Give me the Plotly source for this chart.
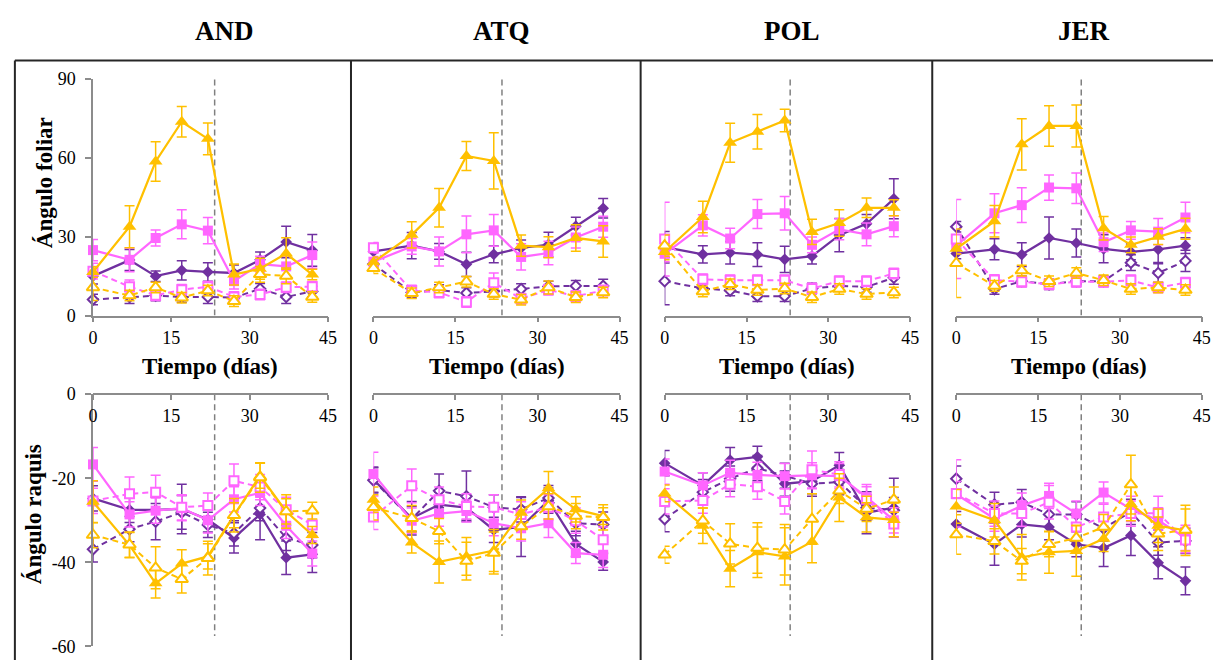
import plotly.graph_objects as go

# ---------------- data ----------------
days = [0, 7, 12, 17, 22, 27, 32, 37, 42]
sites = ["AND", "ATQ", "POL", "JER"]
x_ticks = [0, 15, 30, 45]
fol_ticks = [0, 30, 60, 90]
raq_ticks = [0, -20, -40, -60]
raq_ticktext = ["0", "-20", "-40", "-60"]
treat_day = [23.3, 23.5, 23.0, 22.9]

# Ángulo foliar (top row)
fol_AND_pur_s = [15.0, 21.1, 15.0, 17.2, 16.6, 16.2, 21.2, 28.0, 24.8]
fol_AND_pur_s_err = [3, 4, 2, 3.7, 3.5, 3, 3, 6, 6]
fol_AND_pur_d = [6.1, 7.1, 7.6, 7.1, 7.1, 6.8, 10.2, 7.1, 9.2]
fol_AND_pur_d_err = [2, 2.5, 2, 2, 2.5, 2, 2, 2.5, 2]
fol_AND_pnk_s = [24.9, 21.2, 29.5, 34.7, 32.3, 13.1, 19.6, 18.7, 23.0]
fol_AND_pnk_s_err = [4, 4.5, 3, 5.5, 5, 3, 3, 4, 5]
fol_AND_pnk_d = [16.9, 11.0, 7.7, 9.8, 11.0, 7.1, 8.0, 10.8, 11.0]
fol_AND_pnk_d_err = [3, 2.5, 2, 2, 2, 2, 2, 2, 2]
fol_AND_gld_s = [16.6, 33.8, 58.6, 73.7, 67.2, 15.6, 17.8, 23.6, 15.6]
fol_AND_gld_s_err = [2, 8, 7.5, 5.8, 6, 4, 4, 6, 2]
fol_AND_gld_d = [10.7, 7.6, 10.7, 6.8, 9.5, 5.5, 15.7, 15.1, 7.1]
fol_AND_gld_d_err = [5, 2, 2, 2, 2, 2, 3, 3, 2]

fol_ATQ_pur_s = [24.4, 26.6, 24.4, 19.5, 23.3, 25.7, 27.0, 34.0, 40.8]
fol_ATQ_pur_s_err = [3, 5, 3, 4.6, 3.2, 3, 4.7, 3.4, 3.7]
fol_ATQ_pur_d = [19.6, 8.8, 9.7, 8.6, 9.2, 10.1, 11.1, 11.3, 11.3]
fol_ATQ_pur_d_err = [2, 2, 2, 2, 2, 2, 2, 2, 2.5]
fol_ATQ_pnk_s = [20.5, 26.3, 24.4, 30.9, 32.4, 22.3, 23.8, 29.7, 33.8]
fol_ATQ_pnk_s_err = [2, 3, 5.5, 7, 6, 5, 4.5, 4, 4]
fol_ATQ_pnk_d = [25.8, 9.5, 8.8, 5.2, 12.5, 6.4, 9.8, 7.4, 9.5]
fol_ATQ_pnk_d_err = [2, 2, 2, 2, 3.7, 2, 2, 2, 2]
fol_ATQ_gld_s = [20.3, 30.7, 41.0, 60.7, 58.8, 26.6, 26.0, 29.5, 28.2]
fol_ATQ_gld_s_err = [2, 5, 7.3, 5.5, 10.7, 4, 4, 5, 6]
fol_ATQ_gld_d = [18.0, 8.5, 10.7, 12.9, 8.2, 6.0, 10.7, 7.0, 8.8]
fol_ATQ_gld_d_err = [2, 2, 2, 2, 2, 2, 2.5, 2, 2]

fol_POL_pur_s = [26.0, 23.3, 23.9, 23.2, 21.4, 22.6, 30.6, 34.9, 44.4]
fol_POL_pur_s_err = [6, 3.3, 4.3, 4.5, 5, 3, 6.3, 3.5, 7.6]
fol_POL_pur_d = [13.1, 10.3, 9.5, 7.4, 7.4, 10.3, 11.3, 10.9, 14.4]
fol_POL_pur_d_err = [9, 2, 2, 2, 2, 2, 2, 2, 2.5]
fol_POL_pnk_s = [23.5, 34.3, 29.3, 38.6, 38.9, 26.9, 32.8, 30.9, 34.0]
fol_POL_pnk_s_err = [3, 4, 3.9, 5.5, 6.4, 3, 4, 4.3, 4]
fol_POL_pnk_d = [29.1, 13.8, 13.4, 13.4, 13.4, 10.3, 13.1, 13.1, 16.0]
fol_POL_pnk_d_err = [14, 2, 2, 2, 2, 2, 2, 2, 2]
fol_POL_gld_s = [24.2, 37.5, 65.7, 69.9, 74.2, 31.8, 35.2, 41.0, 41.0]
fol_POL_gld_s_err = [3, 6, 7.4, 6.6, 4.3, 4.8, 5, 3.7, 3]
fol_POL_gld_d = [26.6, 9.2, 11.9, 9.7, 10.3, 7.0, 10.1, 8.2, 8.8]
fol_POL_gld_d_err = [4, 2, 2, 2, 2, 2, 2, 2, 2]

fol_JER_pur_s = [23.6, 25.2, 23.2, 29.5, 27.6, 25.4, 24.2, 25.2, 26.6]
fol_JER_pur_s_err = [2, 4, 4.5, 8, 5.3, 5.3, 3, 5, 3]
fol_JER_pur_d = [33.8, 10.1, 13.1, 11.9, 13.1, 13.1, 20.1, 16.2, 20.8]
fol_JER_pur_d_err = [2, 2, 2, 2, 2, 2, 3, 3.5, 4]
fol_JER_pnk_s = [26.6, 38.9, 42.0, 48.7, 48.4, 27.9, 32.4, 31.9, 37.3]
fol_JER_pnk_s_err = [3, 7.4, 6.6, 4.8, 5.8, 3.5, 3.4, 5, 5.8]
fol_JER_pnk_d = [29.1, 13.5, 12.9, 11.9, 12.9, 12.9, 13.4, 10.7, 12.5]
fol_JER_pnk_d_err = [15, 2, 2, 2, 2, 2, 2, 2, 2]
fol_JER_gld_s = [25.4, 35.9, 65.1, 72.1, 72.1, 33.2, 26.9, 30.0, 33.0]
fol_JER_gld_s_err = [2, 6, 9.7, 7.7, 8, 4.5, 3, 3, 4]
fol_JER_gld_d = [19.9, 11.3, 17.1, 13.1, 16.2, 13.4, 10.1, 10.7, 9.7]
fol_JER_gld_d_err = [13, 2, 2, 2, 2, 2, 2, 2, 2]

# Ángulo raquis (bottom row)
raq_AND_pur_s = [-24.8, -27.5, -27.5, -27.3, -29.8, -34.2, -28.6, -38.9, -38.1]
raq_AND_pur_s_err = [3, 3, 3, 5.9, 3, 3.6, 6, 4, 4.3]
raq_AND_pur_d = [-36.9, -32.1, -30.3, -28.1, -31.1, -33.1, -27.1, -34.2, -35.9]
raq_AND_pur_d_err = [3, 3, 4.3, 4, 3, 3, 3, 3, 3]
raq_AND_pnk_s = [-16.7, -28.6, -27.7, -27.1, -30.0, -25.0, -23.5, -31.3, -37.9]
raq_AND_pnk_s_err = [4, 3, 3, 3, 3, 3, 3, 3, 3]
raq_AND_pnk_d = [-25.4, -23.7, -23.3, -26.9, -26.5, -20.6, -22.1, -27.5, -31.1]
raq_AND_pnk_d_err = [3, 4, 4, 3, 3, 4, 3, 3, 3]
raq_AND_gld_s = [-25.6, -35.9, -45.0, -40.3, -38.6, -28.8, -19.4, -27.9, -33.5]
raq_AND_gld_s_err = [5, 3, 3.5, 3.3, 3, 4, 3, 3, 2]
raq_AND_gld_d = [-33.5, -35.8, -41.3, -44.0, -39.0, -28.8, -19.8, -27.9, -27.7]
raq_AND_gld_d_err = [3, 3, 5, 3.3, 4, 3, 3.5, 4, 2]

raq_ATQ_pur_s = [-20.3, -29.5, -26.3, -27.0, -32.3, -31.6, -25.3, -35.6, -39.9]
raq_ATQ_pur_s_err = [3, 4, 3, 3, 3, 7, 3, 3, 2]
raq_ATQ_pur_d = [-20.5, -29.7, -23.0, -24.3, -26.9, -27.4, -24.7, -30.7, -31.0]
raq_ATQ_pur_d_err = [3, 3, 4, 6, 3, 3, 3, 3, 3]
raq_ATQ_pnk_s = [-19.0, -30.1, -28.4, -27.8, -30.7, -31.9, -30.7, -37.8, -38.2]
raq_ATQ_pnk_s_err = [5.2, 3, 3, 2.6, 3, 3, 3.4, 2.5, 3]
raq_ATQ_pnk_d = [-29.2, -21.8, -25.1, -26.7, -26.9, -28.6, -26.9, -30.1, -34.6]
raq_ATQ_pnk_d_err = [3, 4, 3, 3, 3, 3, 3, 3, 3]
raq_ATQ_gld_s = [-25.1, -35.3, -39.9, -38.6, -37.2, -28.2, -22.4, -27.4, -29.0]
raq_ATQ_gld_s_err = [3, 2.5, 5, 4.5, 5, 3, 4, 3, 2]
raq_ATQ_gld_d = [-26.9, -29.5, -32.6, -39.7, -37.8, -31.5, -26.7, -29.0, -29.3]
raq_ATQ_gld_d_err = [3, 3, 3, 4.5, 5, 3, 3, 3, 3]

raq_POL_pur_s = [-16.4, -21.7, -15.7, -14.9, -21.3, -20.7, -16.9, -28.2, -27.0]
raq_POL_pur_s_err = [3, 3, 3, 2.5, 3, 3, 3, 5, 7]
raq_POL_pur_d = [-29.7, -23.3, -20.1, -17.6, -19.4, -21.3, -20.9, -27.0, -27.6]
raq_POL_pur_d_err = [3, 3, 3, 3, 3, 3, 3, 3, 3]
raq_POL_pnk_s = [-18.4, -21.7, -18.7, -19.2, -19.5, -19.3, -19.5, -24.5, -30.0]
raq_POL_pnk_s_err = [3, 3, 3, 3, 3, 3, 3, 3, 3]
raq_POL_pnk_d = [-25.5, -25.3, -21.4, -22.0, -25.5, -18.0, -19.1, -25.0, -30.9]
raq_POL_pnk_d_err = [3, 3, 3, 3, 3, 4.5, 3, 3, 3]
raq_POL_gld_s = [-23.6, -31.3, -41.5, -37.6, -38.6, -35.1, -24.6, -29.3, -29.9]
raq_POL_gld_s_err = [2, 4.2, 4.3, 6, 6.8, 5, 5.7, 3.5, 4]
raq_POL_gld_d = [-38.2, -30.1, -35.6, -36.6, -37.0, -29.7, -23.0, -27.3, -25.1]
raq_POL_gld_d_err = [2, 3, 4.8, 6, 6, 6, 3, 3, 3]

raq_JER_pur_s = [-30.9, -35.7, -31.0, -31.6, -35.7, -36.6, -33.6, -40.1, -44.4]
raq_JER_pur_s_err = [3, 5, 3, 3, 3, 4.4, 4.8, 3.8, 3.3]
raq_JER_pur_d = [-20.1, -26.3, -25.7, -28.6, -28.6, -31.9, -28.0, -35.3, -34.9]
raq_JER_pur_d_err = [3, 3, 3, 3, 3, 3, 3, 3, 3]
raq_JER_pnk_s = [-23.8, -29.6, -26.5, -24.2, -28.4, -23.4, -27.3, -30.0, -34.2]
raq_JER_pnk_s_err = [3, 3, 3, 3, 3, 2.5, 3, 3, 3]
raq_JER_pnk_d = [-23.6, -28.4, -28.4, -25.7, -31.6, -29.2, -28.4, -28.3, -34.7]
raq_JER_pnk_d_err = [8, 3, 3, 4, 3, 3, 3, 4, 3]
raq_JER_gld_s = [-26.7, -30.0, -38.8, -37.6, -37.3, -34.4, -26.1, -31.3, -32.4]
raq_JER_gld_s_err = [4, 4, 5.4, 5, 6, 3, 4, 4, 6]
raq_JER_gld_d = [-33.4, -35.0, -39.7, -35.7, -34.2, -31.6, -21.5, -33.2, -32.3]
raq_JER_gld_d_err = [4.7, 3, 3, 3, 3, 3, 7, 4, 5]

# ---------------- styling ----------------
PUR, PNK, GLD = "#7030A0", "#FF66FF", "#FFC000"
FONT = "Liberation Serif"
AXC = "#8C8C8C"
series_style = [
    ("pur_s", PUR, "diamond", True, 9),
    ("pur_d", PUR, "diamond", False, 8),
    ("pnk_s", PNK, "square", True, 10),
    ("pnk_d", PNK, "square", False, 9),
    ("gld_s", GLD, "triangle-up", True, 12),
    ("gld_d", GLD, "triangle-up", False, 11),
]

W, H = 1222, 670
def pxx(p): return p / W
def pxy(p): return 1 - p / H

xdom_px = [(89, 326.7), (372.7, 621.7), (667.3, 915.7), (962.3, 1210.7)]
ydom_px = [(315, 71), (656, 396)]
g = globals()

fig = go.Figure()
layout_axes = {}
shapes = []
for r, prefix in enumerate(["fol", "raq"]):
    for c, site in enumerate(sites):
        idx = r * 4 + c + 1
        xa, ya = f"x{idx}", f"y{idx}"
        for key, col, sym, filled, size in series_style:
            vals = g[f"{prefix}_{site}_{key}"]
            errs = g[f"{prefix}_{site}_{key}_err"]
            fig.add_trace(go.Scatter(
                x=days, y=vals, xaxis=xa, yaxis=ya, mode="lines+markers",
                line=dict(color=col, width=2.25 if filled else 2,
                          dash="solid" if filled else "6px,4px"),
                marker=dict(symbol=sym, size=size,
                            color=col if filled else "white",
                            line=dict(color=col, width=0 if filled else 2)),
                error_y=dict(type="data", array=errs, visible=True, color=col,
                             thickness=1.5, width=5),
                cliponaxis=False, showlegend=False, hoverinfo="skip"))
        xd = [pxx(xdom_px[c][0]), pxx(xdom_px[c][1])]
        yd = [pxy(ydom_px[r][0]), pxy(ydom_px[r][1])]
        xax = dict(domain=xd, range=[0, 45], tickvals=x_ticks, ticks="outside",
                   ticklen=5, tickwidth=1.5, tickcolor=AXC, showline=True,
                   linecolor=AXC, linewidth=1.5, showgrid=False, zeroline=False,
                   tickfont=dict(family=FONT, size=18, color="black"),
                   fixedrange=True)
        if r == 0:
            xax.update(anchor=ya)
        else:
            xax.update(anchor="free", position=pxy(396), side="bottom")
        yax = dict(domain=yd, anchor=xa, showgrid=False, zeroline=False,
                   fixedrange=True)
        if r == 0:
            yax.update(range=[0, 90], tickvals=fol_ticks)
        else:
            yax.update(range=[-60, 0], tickvals=raq_ticks, ticktext=raq_ticktext)
        if c == 0:
            yax.update(showline=True, linecolor=AXC, linewidth=1.5, ticks="outside",
                       ticklen=6, tickwidth=1.5, tickcolor=AXC, ticklabelstandoff=6,
                       tickfont=dict(family=FONT, size=18, color="black"))
        else:
            yax.update(visible=False)
        layout_axes[f"xaxis{idx}"] = xax
        layout_axes[f"yaxis{idx}"] = yax
        # vertical dashed line (treatment end)
        shapes.append(dict(type="line", xref=xa, yref=ya, x0=treat_day[c], x1=treat_day[c],
                           y0=0, y1=91.6 if r == 0 else -57.5,
                           line=dict(color="#808080", width=1.5, dash="6px,4px"),
                           layer="below"))

# table borders
BC = "#262626"
shapes.append(dict(type="line", xref="paper", yref="paper", x0=pxx(10), x1=1,
                   y0=pxy(52), y1=pxy(52), line=dict(color=BC, width=2)))
for xv in [10, 350, 643, 938]:
    shapes.append(dict(type="line", xref="paper", yref="paper", x0=pxx(xv), x1=pxx(xv),
                       y0=0, y1=pxy(52), line=dict(color=BC, width=2)))

annotations = []
head_x = [222, 502, 796, 1091]
for c, site in enumerate(sites):
    annotations.append(dict(text=f"<b>{site}</b>", x=pxx(head_x[c]), y=pxy(22),
                            xref="paper", yref="paper", showarrow=False,
                            xanchor="center", yanchor="middle",
                            font=dict(family=FONT, size=27, color="black")))
    xc = (xdom_px[c][0] + xdom_px[c][1]) / 2
    annotations.append(dict(text="<b>Tiempo (días)</b>", x=pxx(xc), y=pxy(367),
                            xref="paper", yref="paper", showarrow=False,
                            xanchor="center", yanchor="middle",
                            font=dict(family=FONT, size=23, color="black")))
annotations.append(dict(text="<b>Ángulo foliar</b>", x=pxx(40), y=pxy(178),
                        xref="paper", yref="paper", showarrow=False, textangle=-90,
                        xanchor="center", yanchor="middle",
                        font=dict(family=FONT, size=23, color="black")))
annotations.append(dict(text="<b>Ángulo raquis</b>", x=pxx(29), y=pxy(520),
                        xref="paper", yref="paper", showarrow=False, textangle=-90,
                        xanchor="center", yanchor="middle",
                        font=dict(family=FONT, size=23, color="black")))

fig.update_layout(width=W, height=H, margin=dict(l=0, r=0, t=0, b=0),
                  paper_bgcolor="white", plot_bgcolor="white",
                  font=dict(family=FONT, size=18, color="black"),
                  shapes=shapes, annotations=annotations, **layout_axes)
fig.write_html("out.html", config={"displayModeBar": False})
